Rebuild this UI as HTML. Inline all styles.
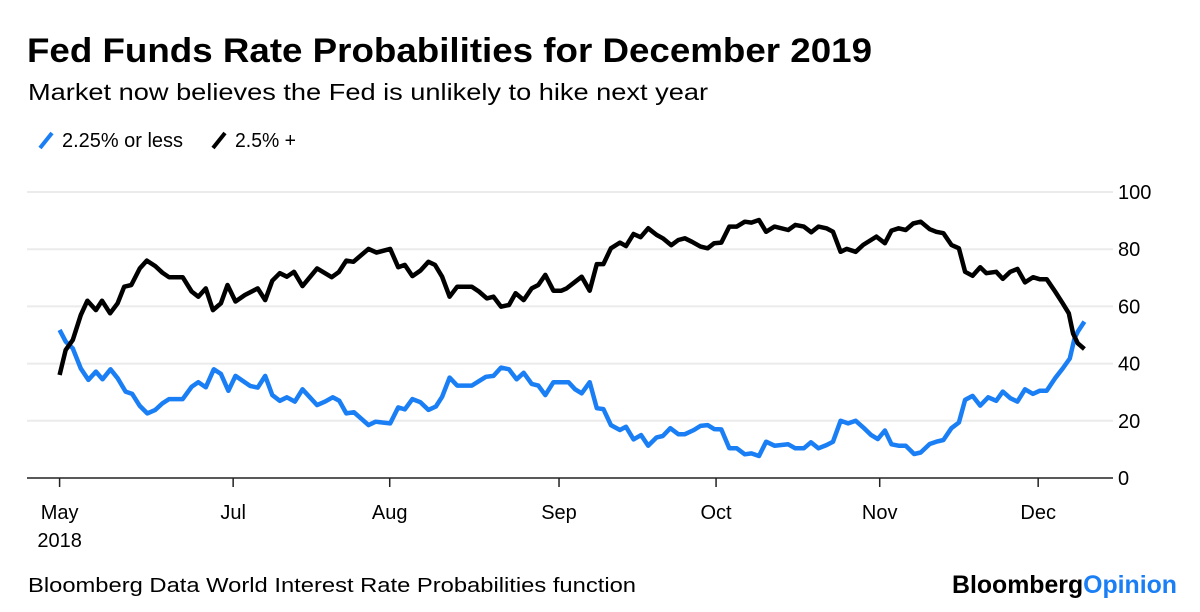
<!DOCTYPE html>
<html><head><meta charset="utf-8"><style>
html,body{margin:0;padding:0;background:#fff;}
svg{display:block;font-family:"Liberation Sans",Arial,sans-serif;}
</style></head><body>
<svg id="chart" width="1200" height="612" viewBox="0 0 1200 612">
<text x="27" y="62" font-size="34" font-weight="bold" fill="#000" textLength="845" lengthAdjust="spacingAndGlyphs">Fed Funds Rate Probabilities for December 2019</text>
<text x="28" y="100" font-size="23" fill="#000" textLength="680" lengthAdjust="spacingAndGlyphs">Market now believes the Fed is unlikely to hike next year</text>
<g>
<g>
<line x1="40" y1="148" x2="52" y2="133" stroke="#1a7ef5" stroke-width="4"/>
<text x="62" y="147" font-size="20" fill="#000" textLength="121" lengthAdjust="spacingAndGlyphs">2.25% or less</text>
</g>
<g>
<line x1="213" y1="148" x2="225" y2="133" stroke="#000" stroke-width="4"/>
<text x="235" y="147" font-size="20" fill="#000" textLength="61" lengthAdjust="spacingAndGlyphs">2.5% +</text>
</g>
</g>
<g id="grid"></g>
<g id="xaxis"></g>
<g id="series"></g>
<text x="28" y="592" font-size="20" fill="#000" textLength="608" lengthAdjust="spacingAndGlyphs">Bloomberg Data World Interest Rate Probabilities function</text>
<text x="952" y="593" font-size="25" font-weight="bold" fill="#000" textLength="225" lengthAdjust="spacingAndGlyphs">Bloomberg<tspan fill="#1a7ef5">Opinion</tspan></text>
</svg>
<script>
const yTicks = [0, 20, 40, 60, 80, 100];
const monthLabels = ["May", "Jul", "Aug", "Sep", "Oct", "Nov", "Dec"];
const monthDays = [0, 36.8, 70.0, 105.9, 139.2, 173.9, 207.5];
const blackDays = [0,1.3,2.8,4.5,5.9,7.7,9.0,10.7,12.3,13.7,15.2,17.0,18.5,20.3,21.8,23.2,26.1,28.0,29.4,31.0,32.5,34.2,35.6,37.3,39.3,42.0,43.6,45.1,46.7,48.2,49.7,51.5,54.6,57.7,59.2,60.8,62.3,65.5,67.2,70.1,71.8,73.2,74.8,76.5,78.2,79.6,81.1,82.7,84.3,87.4,88.9,90.6,92.0,93.6,95.3,96.7,98.4,100.1,101.5,103.0,104.7,106.4,107.5,109.3,110.7,112.4,113.9,115.3,116.9,118.8,120.1,121.7,123.2,124.8,126.6,127.9,129.7,131.2,132.6,134.1,135.9,137.4,138.8,140.3,142.0,143.6,145.3,146.7,148.3,149.8,151.6,154.5,156.0,157.8,159.4,160.9,162.6,164.0,165.6,166.9,168.8,170.4,173.2,175.0,176.4,177.9,179.4,181.0,182.6,184.5,185.9,187.4,189.1,190.7,192.0,193.6,195.2,196.5,198.6,200.0,201.6,203.1,204.7,206.4,207.8,209.3,211.1,212.7,214.0,214.9,215.9,217.3];
const blackValues = [36.0,44.8,48.3,57.0,62.0,58.7,62.0,57.6,61.1,66.9,67.5,73.3,76.0,74.1,71.8,70.2,70.2,65.2,63.4,66.3,58.7,61.1,67.5,61.7,64.0,66.3,62.2,69.0,71.6,70.4,72.1,67.1,73.3,70.2,72.0,76.0,75.6,80.1,78.8,80.1,73.7,74.5,70.6,72.5,75.6,74.5,70.4,63.4,66.9,66.9,65.2,62.8,63.4,59.9,60.5,64.6,62.2,66.3,67.5,71.0,65.5,65.5,66.3,68.6,70.4,65.5,74.8,74.8,80.3,82.3,81.1,85.3,84.2,87.3,85.0,83.8,81.4,83.2,83.8,82.6,80.9,80.3,82.1,82.3,87.9,87.9,89.6,89.3,90.2,86.1,87.9,86.7,88.5,87.9,85.9,87.9,87.3,86.1,79.1,80.1,79.1,81.5,84.4,82.1,86.5,87.3,86.7,89.0,89.6,87.0,86.1,85.6,81.5,80.3,72.1,70.7,73.7,71.6,72.1,69.6,72.1,73.1,68.4,70.2,69.5,69.5,65.2,61.1,57.6,50.5,47.1,45.1];
const blueDays = [0,1.3,2.8,4.5,6.1,7.7,9.1,10.8,12.3,14.0,15.4,17.0,18.6,20.3,21.8,23.2,26.1,28.0,29.4,31.0,32.7,34.2,35.8,37.3,40.4,42.0,43.6,45.1,46.7,48.2,49.9,51.5,54.6,56.3,57.9,59.3,60.8,62.4,65.5,67.0,70.1,71.8,73.2,74.8,76.5,78.2,79.8,81.1,82.7,84.3,87.4,90.4,92.0,93.6,95.3,96.9,98.4,100.1,101.5,103.0,104.7,107.9,109.3,110.7,112.4,113.9,115.3,116.9,118.8,120.1,121.7,123.3,124.8,126.6,127.9,129.5,131.2,132.6,134.5,135.9,137.4,138.8,140.3,142.0,143.6,145.3,146.7,148.3,149.8,151.6,154.5,156.0,157.8,159.3,160.9,162.6,164.0,165.6,167.2,168.8,170.4,172.1,173.5,175.0,176.4,177.9,179.4,181.2,182.6,184.5,185.9,187.4,189.1,190.7,192.0,193.6,195.2,196.9,198.6,200.0,201.6,203.1,204.7,206.4,207.8,209.3,211.1,212.7,214.2,215.2,215.9,217.3];
const blueValues = [51.8,47.7,45.3,38.3,34.3,37.2,34.5,38.0,34.9,30.2,29.4,25.2,22.6,23.8,26.1,27.6,27.6,31.9,33.5,31.7,38.0,36.4,30.5,35.7,32.2,31.6,35.7,29.0,27.0,28.2,26.7,31.0,25.5,26.7,28.2,27.0,22.6,23.0,18.5,19.7,19.1,24.7,24.0,27.6,26.5,23.8,25.0,28.4,35.1,32.3,32.3,35.4,35.7,38.6,38.0,34.5,36.8,32.9,32.3,29.0,33.5,33.5,31.0,29.6,33.5,24.4,24.1,18.5,16.8,17.9,13.5,15.0,11.3,14.2,14.7,17.4,15.3,15.3,16.8,18.2,18.5,17.1,17.0,10.4,10.4,8.3,8.6,7.7,12.7,11.3,11.8,10.4,10.4,12.5,10.4,11.5,12.7,20.0,19.1,20.0,17.7,15.0,13.6,16.6,11.8,11.3,11.3,8.4,8.9,11.9,12.7,13.3,17.4,19.4,27.3,28.7,25.3,28.2,27.0,30.2,27.9,26.7,31.0,29.4,30.5,30.5,34.9,38.3,41.8,48.8,51.2,54.7];

const NS = "http://www.w3.org/2000/svg";
function xScale(d){ return 59.6 + d * 4.716; }
function yScale(v){ return 478 - v * 2.86; }
function mk(tag, attrs, parent){ const e = document.createElementNS(NS, tag); for (const k in attrs) e.setAttribute(k, attrs[k]); parent.appendChild(e); return e; }

const grid = document.getElementById('grid');
yTicks.forEach(function(t){
  if (t > 0) {
    const gl = mk('line', {x1: 27, x2: 1113, y1: yScale(t), y2: yScale(t), stroke: '#ebebeb', 'stroke-width': 2}, grid);
    
    
  }
  const lb = mk('text', {x: 1118, y: yScale(t) + 7, 'font-size': 20, fill: '#000'}, grid);
  lb.textContent = t;
  
  
});

const xa = document.getElementById('xaxis');
const axl = mk('line', {x1: 27, x2: 1113, y1: 478, y2: 478, stroke: '#222', 'stroke-width': 1.5}, xa);


monthLabels.forEach(function(m, i){
  const x = xScale(monthDays[i]);
  const tk = mk('line', {x1: x, x2: x, y1: 478, y2: 487, stroke: '#222', 'stroke-width': 1.5}, xa);
  
  
  const tl = mk('text', {x: x, y: 519, 'font-size': 20, fill: '#000', 'text-anchor': 'middle'}, xa);
  tl.textContent = m;
  
  
});
const yr = mk('text', {x: xScale(0), y: 547, 'font-size': 20, fill: '#000', 'text-anchor': 'middle'}, xa);
yr.textContent = '2018';



const sg = document.getElementById('series');
function drawLine(days, vals, color, name){
  const pts = days.map(function(d, i){ return xScale(d).toFixed(1) + ',' + yScale(vals[i]).toFixed(1); }).join(' ');
  const pl = mk('polyline', {points: pts, fill: 'none', stroke: color, 'stroke-width': 4.5, 'stroke-linejoin': 'round', 'stroke-linecap': 'butt'}, sg);
  
  
}
drawLine(blueDays, blueValues, '#1a7ef5', 'line-2-25-or-less');
drawLine(blackDays, blackValues, '#000', 'line-2-5-plus');
</script>
</body></html>
